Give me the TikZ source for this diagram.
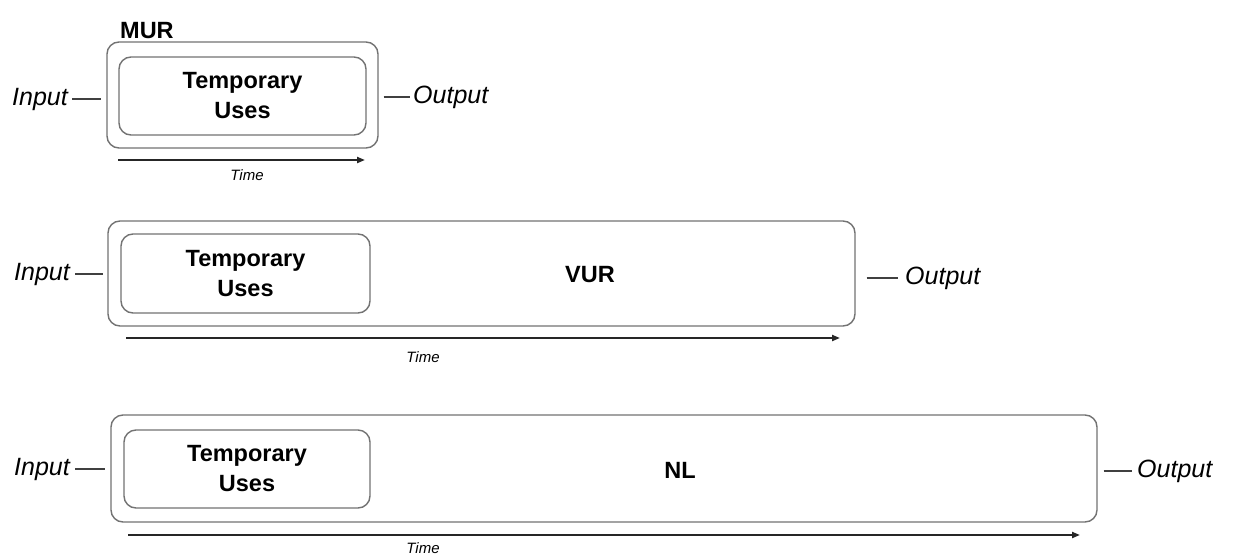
\documentclass[tikz,border=0pt]{standalone}
\usepackage{fontspec}
\setmainfont{Liberation Sans}
\usetikzlibrary{arrows.meta}
\tikzset{
  outerbox/.style={draw=black!55, line width=1.4pt, rounded corners=12pt, inner sep=0pt},
  innerbox/.style={draw=black!55, line width=1.4pt, rounded corners=12pt, align=center,
    font=\fontsize{23.5}{30}\selectfont\bfseries},
  boxlabel/.style={font=\fontsize{23.5}{28}\selectfont\bfseries, inner sep=0pt},
  iotext/.style={font=\fontsize{25}{30}\selectfont\itshape, inner sep=0pt},
  link/.style={draw=black!75, line width=1.4pt},
  timearrow/.style={draw=black!85, line width=2pt, -{Triangle[length=8pt,width=6pt]}},
  timelabel/.style={font=\fontsize{15}{18}\selectfont\itshape, inner sep=0pt}
}
\begin{document}
\begin{tikzpicture}[x=1pt,y=-1pt]
\useasboundingbox[fill=white] (0,0) rectangle (1234,557);

% ---------- MUR ----------
\node[outerbox, minimum width=271pt, minimum height=106pt] (mur) at (242.5,95) {};
\node[innerbox, minimum width=247pt, minimum height=78pt] (tu1) at (242.5,96) {Temporary\\Uses};
\node[boxlabel, anchor=base west] (murl) at (120,38) {MUR};
\node[iotext, anchor=east] (in1) at (68,99) {Input};
\node[iotext, anchor=west] (out1) at (413,97) {Output};
\draw[link, shorten <=4pt, shorten >=5pt] (in1.east) -- (in1.east -| mur.west);
\draw[link, shorten <=5pt, shorten >=3pt] (out1.west -| mur.east) -- (out1.west);
\coordinate (t1s) at (118,160);
\coordinate (t1e) at (365,160);
\draw[timearrow] (t1s) -- (t1e);
\node[timelabel] (tl1) at (247,175) {Time};

% ---------- VUR ----------
\node[outerbox, minimum width=747pt, minimum height=105pt] (vur) at (481.5,273.5) {};
\node[innerbox, minimum width=249pt, minimum height=79pt] (tu2) at (245.5,273.5) {Temporary\\Uses};
\node[boxlabel] (vurl) at (590,275) {VUR};
\node[iotext, anchor=east] (in2) at (70,274) {Input};
\node[iotext, anchor=west] (out2) at (905,278) {Output};
\draw[link, shorten <=5pt, shorten >=4pt] (in2.east) -- (in2.east -| vur.west);
\draw[link, shorten <=11pt, shorten >=7pt] (out2.west -| vur.east) -- (out2.west);
\coordinate (t2s) at (126,338);
\coordinate (t2e) at (840,338);
\draw[timearrow] (t2s) -- (t2e);
\node[timelabel] (tl2) at (423,357) {Time};

% ---------- NL ----------
\node[outerbox, minimum width=986pt, minimum height=107pt] (nl) at (604,468.5) {};
\node[innerbox, minimum width=246pt, minimum height=78pt] (tu3) at (247,469) {Temporary\\Uses};
\node[boxlabel] (nll) at (680,470) {NL};
\node[iotext, anchor=east] (in3) at (70,469) {Input};
\node[iotext, anchor=west] (out3) at (1137,471) {Output};
\draw[link, shorten <=5pt, shorten >=5pt] (in3.east) -- (in3.east -| nl.west);
\draw[link, shorten <=6pt, shorten >=5pt] (out3.west -| nl.east) -- (out3.west);
\coordinate (t3s) at (128,535);
\coordinate (t3e) at (1080,535);
\draw[timearrow] (t3s) -- (t3e);
\node[timelabel] (tl3) at (423,548) {Time};
\end{tikzpicture}
\end{document}
